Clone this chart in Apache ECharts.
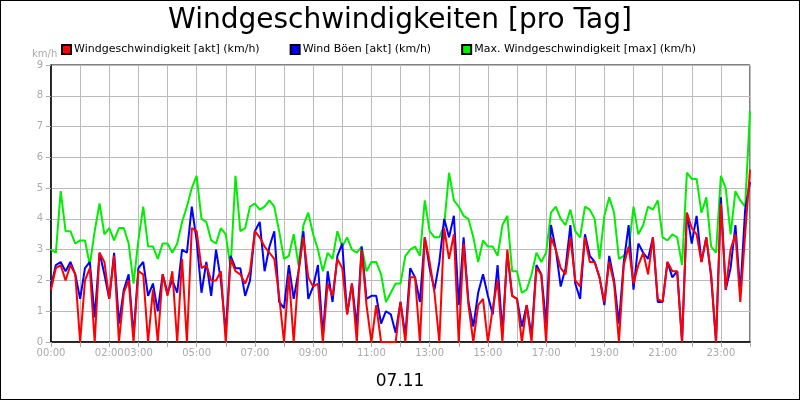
<!DOCTYPE html>
<html><head><meta charset="utf-8">
<script src="https://cdn.jsdelivr.net/npm/echarts@6/dist/echarts.min.js"></script>
<style>html,body{margin:0;padding:0;}#c{width:798px;height:398px;border:1px solid #000;}</style>
</head><body><div id="c"></div>
<script>
const shownLabels = ['00:00','02:00','03:00','05:00','07:00','09:00','11:00','13:00','15:00','17:00','19:00','21:00','23:00'];
const dateLabel = '07.11';
const green = [3.0,2.9,4.9,3.6,3.6,3.2,3.3,3.3,2.5,3.6,4.5,3.5,3.7,3.3,3.7,3.7,3.2,1.9,3.3,4.4,3.1,3.1,2.7,3.2,3.2,2.9,3.2,3.9,4.4,5.0,5.4,4.0,3.9,3.3,3.2,3.7,3.5,
 2.4,5.4,3.6,3.7,4.4,4.5,4.3,4.4,4.6,4.4,3.6,2.7,2.8,3.5,2.5,3.8,4.2,3.5,3.0,2.3,2.9,2.7,3.6,3.1,3.4,3.0,2.9,3.1,2.3,2.6,2.6,2.2,1.3,1.6,1.9,1.9,
 2.8,3.0,3.1,2.8,4.6,3.6,3.4,3.4,3.8,5.5,4.6,4.4,4.1,4.0,3.4,2.6,3.3,3.1,3.1,2.8,3.8,4.1,2.3,2.3,1.6,1.7,2.2,2.9,2.6,2.9,4.2,4.4,4.0,3.8,4.3,3.6,3.4,4.4,4.3,
 4.0,2.7,4.1,4.7,4.2,2.7,2.8,3.0,4.4,3.5,3.8,4.4,4.3,4.6,3.4,3.3,3.5,3.4,2.5,5.5,5.3,5.3,4.2,4.7,3.1,2.9,5.4,5.0,3.5,4.9,4.6,4.4,7.5];
const blue = [1.8,2.5,2.6,2.3,2.6,2.2,1.4,2.4,2.6,0.8,2.9,2.2,1.4,2.9,0.6,1.7,2.2,0.2,2.4,2.6,1.5,1.9,1.0,2.2,1.6,2.0,1.6,3.0,2.9,4.4,3.3,1.6,2.6,1.5,3.0,2.0,0.3,
 2.8,2.4,2.4,1.5,2.0,3.6,3.9,2.3,3.1,3.6,1.3,1.1,2.5,1.4,2.3,3.6,1.4,1.8,2.5,0.2,2.3,1.3,2.8,3.2,0.9,1.9,0.5,3.1,1.4,1.5,1.5,0.6,1.0,0.9,0.3,1.3,
 0.2,2.4,2.1,1.3,3.4,2.4,1.7,2.6,4.0,3.4,4.1,1.2,3.4,1.3,0.5,1.6,2.2,1.5,0.9,2.5,0.3,2.9,1.5,1.4,0.5,1.2,0.2,2.5,2.2,0.6,3.8,3.0,1.8,2.4,3.8,1.9,1.4,3.5,2.8,
 2.6,2.1,1.2,2.8,2.0,0.6,2.6,3.8,1.7,3.2,2.9,2.7,3.4,1.3,1.3,2.6,2.1,2.3,0.0,4.2,3.2,4.1,2.6,3.4,2.1,0.0,4.7,1.7,2.4,3.8,1.6,4.3,5.2];
const red = [1.7,2.4,2.5,2.0,2.5,2.2,0,2.0,2.4,0,2.9,2.6,1.4,2.8,0,1.6,2.0,0,2.3,2.2,0,1.7,0,2.2,1.5,2.3,0,2.7,0,3.7,3.6,2.4,2.5,2.0,2.0,2.3,0,
 2.7,2.3,2.2,1.9,2.3,3.6,3.4,3.1,2.9,2.7,1.5,0,2.2,0,2.3,3.4,2.1,1.8,1.9,0,1.9,1.5,2.7,2.4,0.9,1.9,0,3.0,1.2,0,1.2,0,0,0,0,1.3,
 0,2.1,2.1,0,3.4,2.6,1.6,0,3.7,2.7,3.5,0,3.2,1.2,0,1.2,1.4,0,1.1,2.0,0,3.0,1.5,1.4,0,1.2,0,2.4,2.2,0,3.4,3.0,2.4,2.2,3.4,2.0,1.8,3.4,2.6,
 2.6,2.1,1.3,2.6,1.9,0,2.5,3.1,1.9,2.5,2.9,2.2,3.4,1.4,1.3,2.6,2.3,2.3,0,4.2,3.7,3.5,2.6,3.4,2.2,0,4.5,1.7,3.0,3.5,1.3,3.5,5.6];
const times = [];
for (let i = 0; i < green.length; i++) {
  const m = i * 10;
  times.push(String(Math.floor(m / 60) % 24).padStart(2, '0') + ':' + String(m % 60).padStart(2, '0'));
}
const last = times.length - 1;
const chart = echarts.init(document.getElementById('c'));
const mk = (name, data, color, z) => ({name, type:'line', data, symbol:'none', smooth:false, z,
  lineStyle:{color, width:2}, itemStyle:{color, borderColor:'#000', borderWidth:1}});
chart.setOption({
  animation:false,
  textStyle:{fontFamily:'DejaVu Sans'},
  title:[{text:'Windgeschwindigkeiten [pro Tag]', left:'center', top:1, textStyle:{fontSize:28, fontWeight:'normal', color:'#000', fontFamily:'DejaVu Sans'}},
         {text:dateLabel, left:'center', top:367, textStyle:{fontSize:17, fontWeight:'normal', color:'#000'}},
         {text:'km/h', left:26, top:43, textStyle:{fontSize:10, fontWeight:'normal', color:'#aaa'}}],
  legend:{top:38, left:55, itemGap:30, itemWidth:9, itemHeight:9, icon:'rect',
    textStyle:{fontSize:11, color:'#000', padding:[0,0,0,-2]}},
  grid:{left:50, right:49, top:64, bottom:57, containLabel:false, show:true, borderColor:'#000', borderWidth:1},
  xAxis:{type:'category', data:times, boundaryGap:false,
    axisLine:{lineStyle:{color:'#000', width:1.5}},
    axisTick:{interval:(i)=>i%6===0, lineStyle:{color:'#aaa'}},
    splitLine:{show:true, interval:(i)=>i%6===0, lineStyle:{color:'#bbb'}},
    axisLabel:{interval:0, formatter:(v, i)=>(i!==last && shownLabels.includes(v))?v:'', color:'#aaa', fontSize:10, margin:6}},
  yAxis:{type:'value', min:0, max:9, interval:1,
    axisLine:{show:true, lineStyle:{color:'#000', width:1.5}},
    axisTick:{show:true, lineStyle:{color:'#aaa'}},
    splitLine:{lineStyle:{color:'#bbb'}},
    axisLabel:{color:'#aaa', fontSize:10}},
  series:[mk('Windgeschwindigkeit [akt] (km/h)', red, '#ff0000', 4),
          mk('Wind Böen [akt] (km/h)', blue, '#0000ff', 3),
          mk('Max. Windgeschwindigkeit [max] (km/h)', green, '#00ee00', 2)]
});
</script></body></html>
